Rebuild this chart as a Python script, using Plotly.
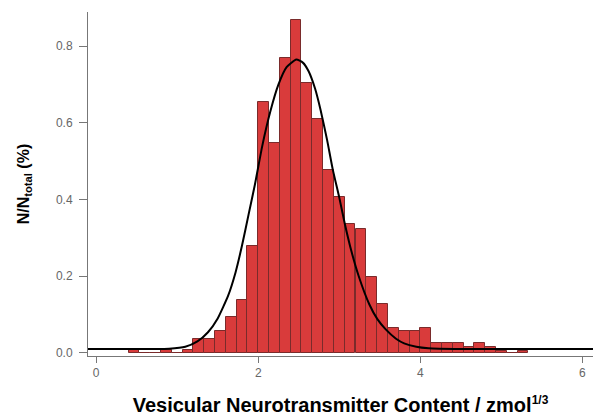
import plotly.graph_objects as go

# histogram bins (centres, zmol^1/3) and fraction of events
bin_centers = [0.467, 0.6, 0.733, 0.867, 1.0, 1.133, 1.267, 1.4, 1.533, 1.667,
               1.8, 1.933, 2.067, 2.2, 2.333, 2.467, 2.6, 2.733, 2.867, 3.0,
               3.133, 3.267, 3.4, 3.533, 3.667, 3.8, 3.933, 4.067, 4.2, 4.333,
               4.467, 4.6, 4.733, 4.867, 5.0, 5.133, 5.267]
bin_width = 2 / 15
fraction = [0.008, 0.0, 0.0, 0.008, 0.0, 0.007, 0.036, 0.036, 0.056, 0.093,
            0.138, 0.28, 0.655, 0.548, 0.768, 0.869, 0.704, 0.611, 0.478, 0.406,
            0.335, 0.322, 0.199, 0.128, 0.066, 0.057, 0.057, 0.066, 0.025, 0.025,
            0.025, 0.015, 0.027, 0.015, 0.005, 0.0, 0.005]

# gaussian fit curve
fit_x = [-0.1, 0.6, 0.9, 1.1, 1.25, 1.38, 1.5, 1.63, 1.72, 1.8, 1.88, 1.96,
         2.05, 2.15, 2.25, 2.35, 2.47, 2.55, 2.62, 2.7, 2.77, 2.85, 2.92,
         3.0, 3.07, 3.15, 3.24, 3.37, 3.47, 3.57, 3.7, 3.8, 3.95, 4.1, 4.5, 6.13]
fit_y = [0.01, 0.01, 0.011, 0.016, 0.03, 0.054, 0.09, 0.15, 0.21, 0.28, 0.36, 0.44,
         0.54, 0.63, 0.7, 0.745, 0.765, 0.757, 0.735, 0.69, 0.633, 0.555, 0.478,
         0.405, 0.335, 0.265, 0.2, 0.127, 0.088, 0.062, 0.037, 0.025, 0.016, 0.012, 0.01, 0.01]

x_ticks = [0, 2, 4, 6]
y_ticks = [0.0, 0.2, 0.4, 0.6, 0.8]

fig = go.Figure()

fig.add_trace(
    go.Bar(
        x=bin_centers,
        y=fraction,
        width=bin_width,
        marker=dict(color="#d93b3b", line=dict(color="#7a2b2b", width=1)),
        showlegend=False
    )
)

fig.add_trace(
    go.Scatter(
        x=fit_x,
        y=fit_y,
        mode="lines",
        line=dict(color="black", width=2, shape="spline", smoothing=0.5),
        showlegend=False
    )
)

axis_font = dict(family="Arial, Liberation Sans", size=12, color="#666666")

# the page body has an 8px margin, so the figure is 8px smaller each way
fig.update_layout(
    width=593,
    height=410,
    margin=dict(l=80, r=8, t=4, b=62),
    paper_bgcolor="white",
    plot_bgcolor="white",
    bargap=0,
    xaxis=dict(
        range=[-0.1, 6.13],
        tickvals=x_ticks,
        ticktext=[str(v) for v in x_ticks],
        ticks="outside",
        ticklen=6,
        tickcolor="#777777",
        showline=True,
        linecolor="#777777",
        linewidth=1,
        showgrid=False,
        zeroline=False,
        automargin=False,
        tickfont=axis_font,
        title=dict(
            text="<b>Vesicular Neurotransmitter Content / zmol"
                 "<sup><span style='font-size:12px'>1/3</span></sup></b>",
            font=dict(family="Arial, Liberation Sans", size=20, color="black"),
            standoff=18
        )
    ),
    yaxis=dict(
        range=[-0.008, 0.889],
        tickvals=y_ticks,
        ticktext=[f"{v:.1f}" for v in y_ticks],
        ticks="outside",
        ticklen=8,
        tickcolor="#777777",
        showline=True,
        linecolor="#777777",
        linewidth=1,
        showgrid=False,
        zeroline=False,
        automargin=False,
        ticklabelstandoff=4,
        tickfont=axis_font,
        title=dict(
            text="<b>N/N<sub>total</sub> (%)</b>",
            font=dict(family="Arial, Liberation Sans", size=16, color="black"),
            standoff=22
        )
    )
)

fig.write_html("out.html")
